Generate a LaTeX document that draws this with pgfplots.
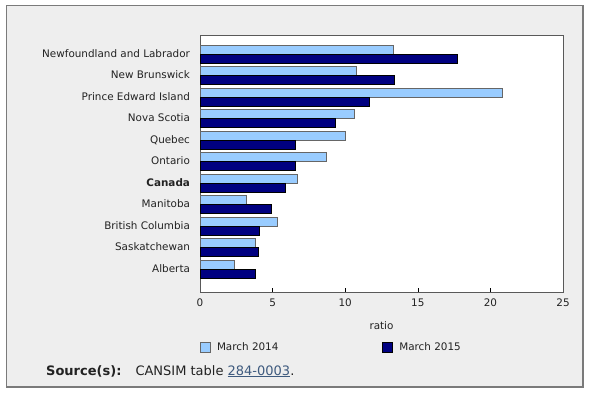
\documentclass[border=0pt]{standalone}
\usepackage{pgfplots}
\usepackage{pgfplotstable}
\pgfplotsset{compat=1.18}
\usepackage{fontspec}
\setmainfont{DejaVu Sans}
\definecolor{lightbar}{HTML}{99CCFF}
\definecolor{darkbar}{HTML}{000080}
\definecolor{panel}{HTML}{EEEEEE}
\definecolor{panelborder}{HTML}{7A7A7A}
\definecolor{txt}{HTML}{222222}
\definecolor{linkc}{HTML}{3E5A7E}

\pgfplotstableread{
idx v2014 v2015
0 13.3 17.7
1 10.8 13.4
2 20.8 11.7
3 10.6 9.3
4 10.0 6.6
5 8.7 6.6
6 6.7 5.9
7 3.2 4.9
8 5.3 4.1
9 3.8 4.0
10 2.4 3.8
}\datatable

\begin{document}
\begin{tikzpicture}[x=1pt,y=1pt]
\path[use as bounding box, fill=white] (0,0) rectangle (589,-393);
\draw[fill=panel, draw=panelborder, line width=1.3pt] (6.5,-5.5) rectangle (583,-387);
\begin{axis}[
  at={(200pt,-292pt)}, anchor=south west,
  scale only axis, width=363pt, height=257pt,
  xbar, bar width=0.42,
  xmin=0, xmax=25, ymin=-0.9, ymax=11.06, y dir=reverse,
  axis background/.style={fill=white},
  axis line style={draw=black!65, line width=0.8pt},
  font=\fontsize{10.4}{12.5}\selectfont,
  /pgf/number format/assume math mode=true,
  ytick={0,...,10},
  yticklabels={Newfoundland and Labrador, New Brunswick, Prince Edward Island, Nova Scotia, Quebec, Ontario, \textbf{Canada}, Manitoba, British Columbia, Saskatchewan, Alberta},
  ytick style={draw=none},
  yticklabel style={anchor=base east, yshift=-3pt, xshift=-6.5pt, text=txt},
  xtick={0,5,...,25},
  tick align=inside, xtick pos=bottom,
  major tick length=4pt,
  xtick style={draw=black, line width=0.6pt},
  xticklabel style={anchor=center, yshift=-10.5pt, text=txt},
  xlabel={ratio},
  xlabel style={at={(axis description cs:0.5,0)}, anchor=center, yshift=-34pt, text=txt},
  legend columns=2,
  legend style={at={(axis description cs:0,-0.214)}, anchor=west, draw=none, fill=none, inner sep=0pt,
    font=\fontsize{10.4}{12.5}\selectfont, text=txt,
    /tikz/every even column/.append style={column sep=102pt}},
  legend cell align=left,
  legend image code/.code={\draw[#1] (0pt,-5pt) rectangle (10pt,5pt); \path (14pt,0pt);},
]
\addplot[fill=lightbar, draw=black!60, line width=0.8pt, bar shift=-0.21] table[x=v2014, y=idx] {\datatable};
\addplot[fill=darkbar, draw=black, line width=0.8pt, bar shift=0.21] table[x=v2015, y=idx] {\datatable};
\legend{March 2014, March 2015}
\end{axis}
\node[anchor=base west, inner sep=0pt, text=txt, font=\fontsize{13}{15}\selectfont] at (46,-375)
  {\textbf{Source(s):}\hspace{14pt}CANSIM table {\color{linkc}\underline{284-0003}}.};
\end{tikzpicture}
\end{document}
